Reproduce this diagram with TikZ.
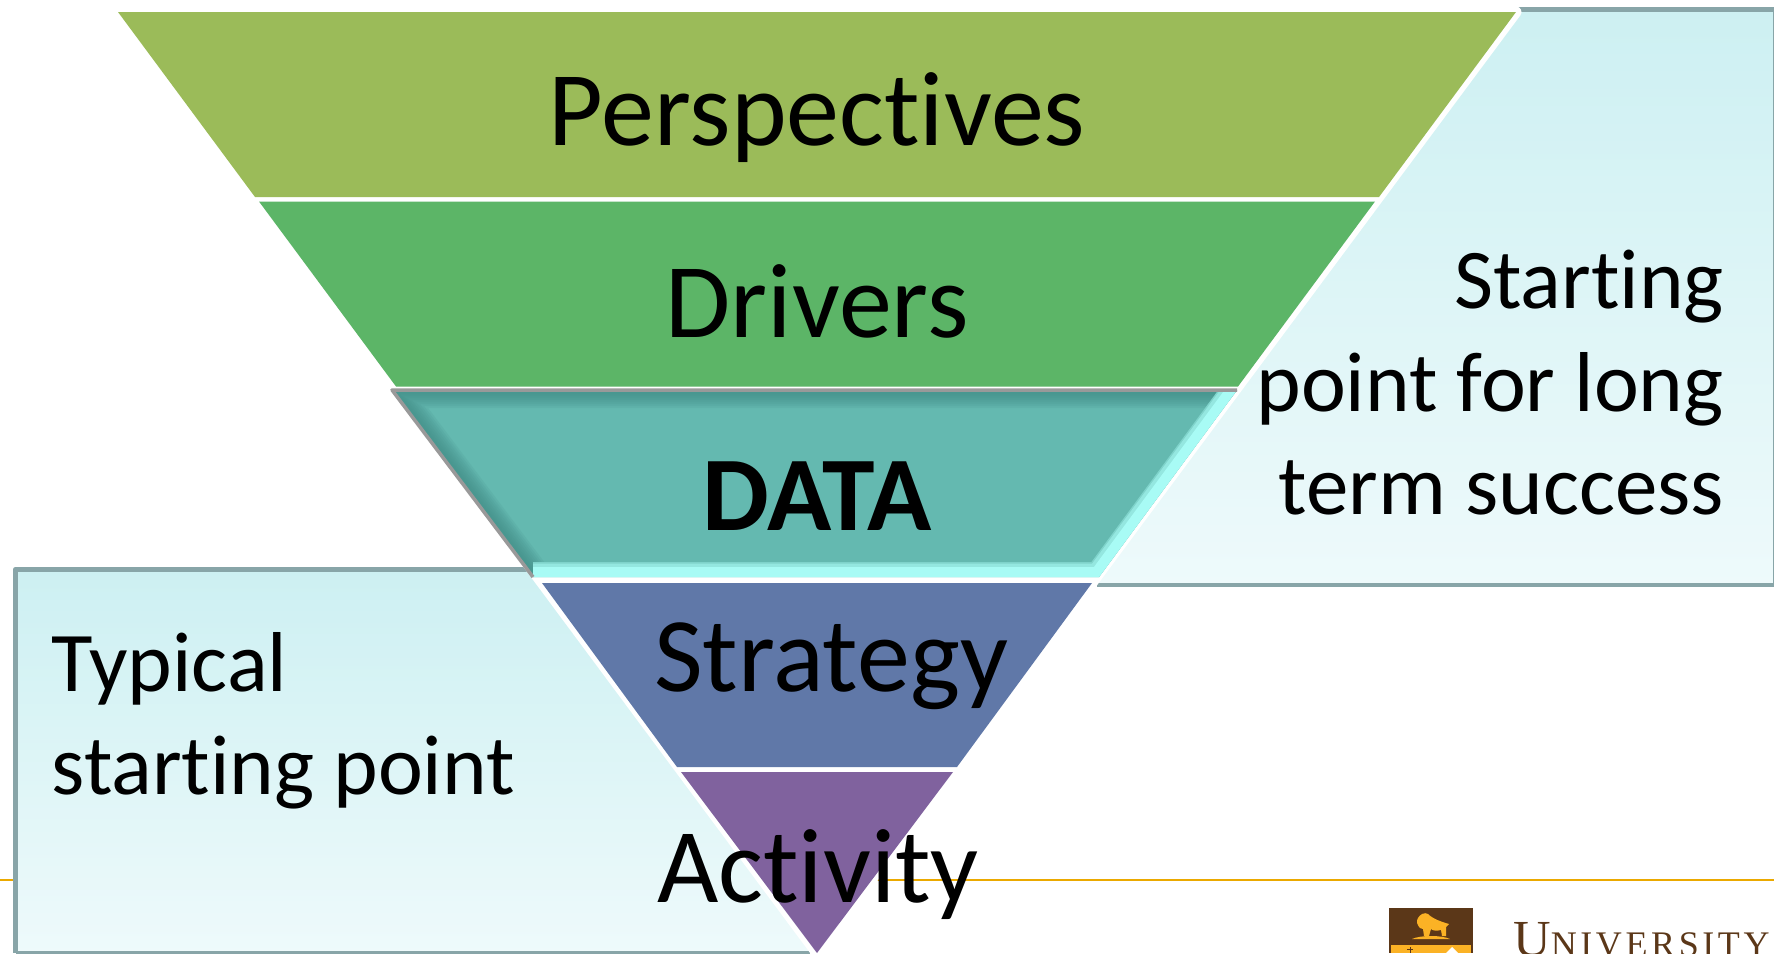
\documentclass[tikz,border=0pt]{standalone}
\usepackage{fontspec}
\setmainfont{Carlito}[RawFeature=-liga]
\newfontfamily\logofont[LetterSpace=10]{Liberation Serif}
\definecolor{perspcol}{HTML}{9BBB59}
\definecolor{drivecol}{HTML}{5CB567}
\definecolor{datacol}{HTML}{64B9B0}
\definecolor{stratcol}{HTML}{6078A8}
\definecolor{activcol}{HTML}{80629E}
\definecolor{boxtop}{HTML}{CDF0F2}
\definecolor{boxbot}{HTML}{EEFAFB}
\definecolor{boxedge}{HTML}{88A5A8}
\definecolor{rulecol}{HTML}{EBA900}
\definecolor{logobrown}{HTML}{5B3718}
\definecolor{logogold}{HTML}{FBB225}
\definecolor{bevelhi}{HTML}{A8FBF5}
\definecolor{bevello}{HTML}{3F8A84}
\tikzset{
	layertext/.style={inner sep=0pt, anchor=base, font=\fontsize{106}{106}\selectfont},
	sidetext/.style={inner sep=0pt, font=\fontsize{85}{103}\selectfont},
	sidebox/.style={top color=boxtop, bottom color=boxbot, draw=none}
}
\begin{document}
\begin{tikzpicture}[x=1pt,y=-1pt,line join=round]
	\useasboundingbox (0,0) rectangle (1774,953);
	\clip (0,0) rectangle (1774,953);
	\draw[rulecol,line width=2pt] (0,880)--(1774,880);
	% side boxes
	\shade[sidebox] (16,570)--(535,570)--(817,953)--(16,953)--cycle;
	\draw[boxedge,line width=5.5pt] (535,569.5)--(15.5,569.5)--(15.5,953);
	\draw[boxedge,line width=3pt] (15.5,952)--(810,952);
	\shade[sidebox] (1516,10)--(1773,10)--(1773,585)--(1090,585)--cycle;
	\draw[boxedge,line width=5pt] (1516,9.5)--(1774,9.5);
	\draw[boxedge,line width=1pt] (1773.5,10)--(1773.5,585);
	\draw[boxedge,line width=4pt] (1097,585)--(1774,585);
	% white funnel behind the layers
	\draw[white,line width=11pt,fill=white] (118,12)--(1516,12)--(817,953)--cycle;
	% layers
	\fill[perspcol] (118,12)--(1516,12)--(1379,197)--(255,197)--cycle;
	\fill[drivecol] (259,201.5)--(1375,201.5)--(1238,386.5)--(396,386.5)--cycle;
	\fill[stratcol] (542,583)--(1092,583)--(957,767)--(677,767)--cycle;
	\fill[activcol] (681,772)--(953,772)--(817,953)--cycle;
	% middle layer with its bevel
	\begin{scope}
		\clip (392,390)--(1237,390)--(1099,577)--(533,577)--cycle;
		\fill[datacol] (392,390) rectangle (1237,577);
		\foreach \w in {36,32,...,8}
			\draw[bevello,opacity=.13,line width=\w pt] (533,577)--(392,390)--(1237,390);
		\draw[bevelhi!40!datacol,line width=30pt] (1237,390)--(1099,577)--(533,577);
		\draw[bevelhi!70!datacol,line width=27pt] (1237,390)--(1099,577)--(533,577);
		\draw[bevelhi,line width=20pt] (1237,390)--(1099,577)--(533,577);
	\end{scope}
	\draw[gray!80,line width=3.5pt] (533,577)--(392,390)--(1237,390);
	% labels
	\node[layertext] (perspectives) at (817,145) {Perspectives};
	\node[layertext] (drivers) at (817,337.5) {Drivers};
	\node[layertext] (data) at (817,530.5) {\textbf{DATA}};
	\node[layertext] (strategy) at (831,691.5) {Strategy};
	\node[layertext] (activity) at (818,902) {Activity};
	\node[sidetext,align=right,anchor=east] (longterm) at (1724,382.5) {Starting\\point for long\\term success};
	\node[sidetext,align=left,anchor=west] (typical) at (51.5,721) {Typical\\starting point};
	% logo
	\fill[logobrown] (1389,908) rectangle (1473,953);
	\fill[logogold] (1391,945) rectangle (1471,953);
	\fill[logogold] (1412,939) .. controls (1420,935) and (1442,935) .. (1450,939) -- cycle;
	\fill[logogold] (1424,936) -- (1423,929) -- (1420,928) .. controls (1417,925) and (1416,921) .. (1418,918)
		.. controls (1420,914) and (1425,912) .. (1428,914)
		.. controls (1433,919) and (1442,922) .. (1449,924) -- (1446,927) -- (1446,936) -- (1442,936)
		-- (1441,930) .. controls (1437,931) and (1433,931) .. (1431,929) -- (1429,936) -- cycle;
	\fill[logobrown] (1409.5,947) rectangle (1410.5,953);
	\fill[logobrown] (1407,949) rectangle (1413,950);
	\fill[white] (1452,947) -- (1458,953) -- (1446,953) -- cycle;
	\node[inner sep=0pt,anchor=base west,text=logobrown,font=\logofont\fontsize{52}{52}\selectfont] (university) at (1513,956) {U\fontsize{36}{36}\selectfont NIVERSITY};
\end{tikzpicture}
\end{document}
